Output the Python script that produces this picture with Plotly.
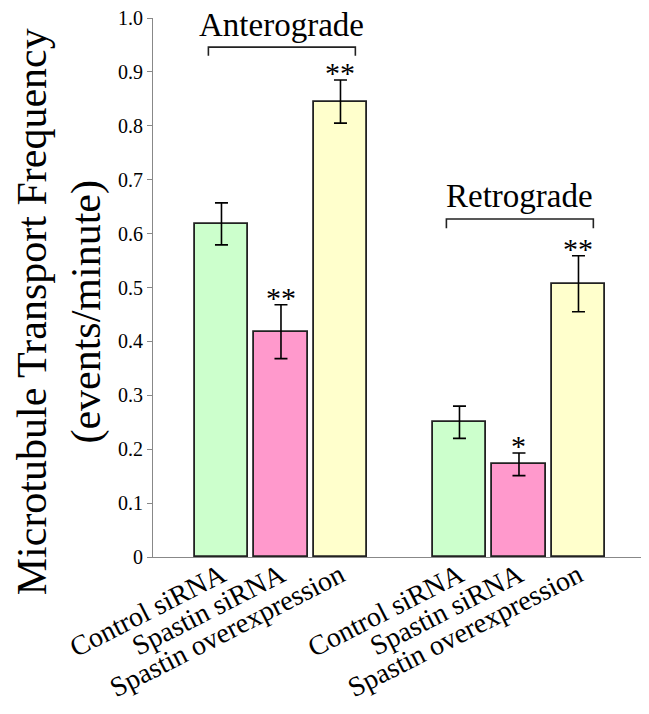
import plotly.graph_objects as go

# ---- data ----
groups = ["Anterograde", "Retrograde"]
conditions = ["Control siRNA", "Spastin siRNA", "Spastin overexpression"]
antero_vals = [0.618, 0.418, 0.845]
antero_err = [0.039, 0.050, 0.040]
retro_vals = [0.250, 0.172, 0.507]
retro_err = [0.030, 0.021, 0.052]
antero_sig = ["", "**", "**"]
retro_sig = ["", "*", "**"]
bar_colors = ["#CCFFCC", "#FF99CC", "#FFFFCC"]
y_ticks = [0, 0.1, 0.2, 0.3, 0.4, 0.5, 0.6, 0.7, 0.8, 0.9, 1.0]
y_tick_labels = ["0", "0.1", "0.2", "0.3", "0.4", "0.5", "0.6", "0.7", "0.8", "0.9", "1.0"]
y_title = "Microtubule Transport Frequency<br>(events/minute)"

FONT = "Liberation Serif, Times New Roman, serif"

# positions: two groups of three bars, one empty slot between groups
pos_a = [0, 1, 2]
pos_r = [4, 5, 6]
positions = pos_a + pos_r
values = antero_vals + retro_vals
errors = antero_err + retro_err
sigs = antero_sig + retro_sig
labels = conditions + conditions
colors = bar_colors + bar_colors

fig = go.Figure()
fig.add_trace(go.Bar(
    x=positions, y=values, width=0.905,
    marker=dict(color=colors, line=dict(color="#222222", width=1.8)),
    error_y=dict(type="data", array=errors, visible=True, color="black",
                 thickness=1.6, width=6.5),
    showlegend=False, hoverinfo="skip",
))

annotations = []
# significance stars
for p, v, e, s in zip(positions, values, errors, sigs):
    if s:
        annotations.append(dict(x=p, y=v + e, xref="x", yref="y", text=s,
                                showarrow=False, yanchor="bottom", yshift=-11,
                                font=dict(family=FONT, size=30, color="black")))

shapes = []
# group brackets + labels
bracket_specs = [
    (groups[0], pos_a, 0.946, 0.930, 0.987),
    (groups[1], pos_r, 0.627, 0.610, 0.670),
]
for name, ps, ytop, ytip, ylab in bracket_specs:
    x0 = ps[0] - 0.22
    x1 = ps[-1] + 0.25
    shapes.append(dict(type="path", xref="x", yref="y",
                       path=f"M {x0} {ytip} L {x0} {ytop} L {x1} {ytop} L {x1} {ytip}",
                       line=dict(color="#222222", width=1.6)))
    annotations.append(dict(x=(x0 + x1) / 2, y=ylab, xref="x", yref="y", text=name,
                            showarrow=False, yanchor="middle",
                            font=dict(family=FONT, size=33, color="black")))

# y-axis title (placed as rotated text left of the axis)
annotations.append(dict(x=-0.19, y=0.455, xref="paper", yref="paper", text=y_title,
                        textangle=-90, showarrow=False, xanchor="center", yanchor="middle",
                        font=dict(family=FONT, size=42, color="black")))

# right end tick of the x axis
shapes.append(dict(type="line", xref="paper", yref="paper", x0=1, x1=1, y0=0, y1=-0.011,
                   line=dict(color="#888888", width=1.2)))

# page has an 8px body margin, so the figure is 8px smaller than the window
fig.update_layout(
    width=641, height=706,
    margin=dict(l=145, r=4, t=10, b=157),
    plot_bgcolor="white", paper_bgcolor="white",
    font=dict(family=FONT, color="black"),
    bargap=0,
    annotations=annotations,
    shapes=shapes,
    xaxis=dict(
        range=[-1.151, 7.118], automargin=False,
        tickvals=positions, ticktext=labels, tickangle=-27,
        ticklabelstandoff=-10,
        tickfont=dict(family=FONT, size=28, color="black"),
        showline=True, linecolor="#888888", linewidth=1.2,
        ticks="", showgrid=False, zeroline=False,
    ),
    yaxis=dict(
        range=[0, 1.0], automargin=False,
        tickvals=y_ticks, ticktext=y_tick_labels, ticklabeloverflow="allow",
        tickfont=dict(family=FONT, size=20, color="black"),
        ticks="outside", ticklen=5, tickcolor="#888888", tickwidth=1.2,
        showline=True, linecolor="#888888", linewidth=1.2,
        showgrid=False, zeroline=False,
    ),
)

fig.write_html("out.html")
